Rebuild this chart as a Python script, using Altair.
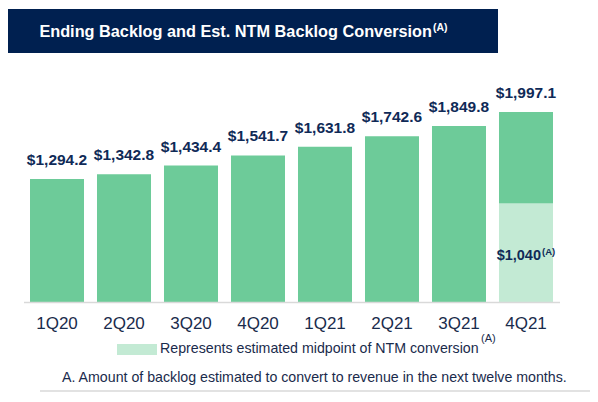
import altair as alt
import pandas as pd

# ---- data ----
quarters = ["1Q20", "2Q20", "3Q20", "4Q20", "1Q21", "2Q21", "3Q21", "4Q21"]
backlog = [1294.2, 1342.8, 1434.4, 1541.7, 1631.8, 1742.6, 1849.8, 1997.1]
backlog_labels = ["$1,294.2", "$1,342.8", "$1,434.4", "$1,541.7",
                  "$1,631.8", "$1,742.6", "$1,849.8", "$1,997.1"]
ntm_quarter = ["4Q21"]
ntm_value = [1040]
ntm_label = ["$1,040"]

title_text = "Ending Backlog and Est. NTM Backlog Conversion"
note_mark = "(A)"
legend_text = "Represents estimated midpoint of NTM conversion"
footnote_text = "A. Amount of backlog estimated to convert to revenue in the next twelve months."

FONT = "Liberation Sans"
NAVY = "#002050"
LABEL = "#0f2a57"
TEXT = "#1a2b4c"
GREEN = "#6dcb99"
HATCH = "#c3ead4"

df = pd.DataFrame({"quarter": quarters, "value": backlog, "label": backlog_labels})
ntm = pd.DataFrame({"quarter": ntm_quarter, "value": ntm_value, "label": ntm_label})
ntm["mid"] = ntm["value"] / 2
one = pd.DataFrame({"k": [0]})

x_scale = alt.Scale(domain=quarters, range=[22, 545], paddingInner=0.194, paddingOuter=0)
y_scale = alt.Scale(domain=[0, 2500], range=[294.3, 56.05], nice=False, zero=True)

X = alt.X("quarter:N", scale=x_scale, axis=None, sort=quarters)

banner = alt.Chart(one).mark_rect(color=NAVY).encode(
    x=alt.value(0), x2=alt.value(490), y=alt.value(1), y2=alt.value(45))
title = alt.Chart(one).mark_text(
    text=title_text, font=FONT, fontSize=16.3, fontWeight="bold", color="white",
    align="right", baseline="alphabetic").encode(x=alt.value(424), y=alt.value(29))
title_sup = alt.Chart(one).mark_text(
    text=note_mark, font=FONT, fontSize=10.5, fontWeight="bold", color="white",
    align="left", baseline="alphabetic").encode(x=alt.value(425), y=alt.value(23))

bars = alt.Chart(df).mark_bar(color=GREEN).encode(
    x=X, y=alt.Y("value:Q", scale=y_scale, axis=None))
hatch = alt.Chart(ntm).mark_bar(color=HATCH).encode(
    x=X, y=alt.Y("value:Q", scale=y_scale, axis=None))

baseline = alt.Chart(one).mark_rule(color="#d9d9d9", strokeWidth=1.5).encode(
    x=alt.value(16), x2=alt.value(552), y=alt.value(294.5))

value_labels = alt.Chart(df).mark_text(
    font=FONT, fontSize=15.5, fontWeight="bold", color=LABEL,
    baseline="alphabetic", dy=-14).encode(
    x=X, y=alt.Y("value:Q", scale=y_scale, axis=None), text="label:N")

ntm_text = alt.Chart(ntm).mark_text(
    font=FONT, fontSize=14.5, fontWeight="bold", color=LABEL,
    align="right", baseline="middle", dx=15, dy=3).encode(
    x=X, y=alt.Y("mid:Q", scale=y_scale, axis=None), text="label:N")
ntm_sup = alt.Chart(ntm).mark_text(
    text=note_mark, font=FONT, fontSize=9.5, fontWeight="bold", color=LABEL,
    align="left", baseline="middle", dx=16, dy=-1).encode(
    x=X, y=alt.Y("mid:Q", scale=y_scale, axis=None))

x_labels = alt.Chart(df).mark_text(
    font=FONT, fontSize=17, color=TEXT, baseline="alphabetic").encode(
    x=X, y=alt.value(321), text="quarter:N")

swatch = alt.Chart(one).mark_rect(color=HATCH).encode(
    x=alt.value(109), x2=alt.value(149), y=alt.value(336), y2=alt.value(347))
legend = alt.Chart(one).mark_text(
    text=legend_text, font=FONT, fontSize=14.2, color=TEXT,
    align="left", baseline="alphabetic").encode(x=alt.value(152), y=alt.value(345))
legend_sup = alt.Chart(one).mark_text(
    text=note_mark, font=FONT, fontSize=11, color=TEXT,
    align="left", baseline="alphabetic").encode(x=alt.value(473), y=alt.value(334))

footnote = alt.Chart(one).mark_text(
    text=footnote_text, font=FONT, fontSize=14.2, color=TEXT,
    align="left", baseline="alphabetic").encode(x=alt.value(54), y=alt.value(374))
bottom_line = alt.Chart(one).mark_rule(color="#d9d9d9", strokeWidth=1.5).encode(
    x=alt.value(32), x2=alt.value(582), y=alt.value(383))

chart = alt.layer(
    banner, title, title_sup, bars, hatch, baseline, value_labels, ntm_text, ntm_sup,
    x_labels, swatch, legend, legend_sup, footnote, bottom_line
).properties(
    width=582, height=386,
    autosize=alt.AutoSizeParams(type="none"),
    padding=0,
    background="white",
).configure_view(stroke=None)

chart.save("out.html", embed_options={"renderer": "svg", "actions": False})
